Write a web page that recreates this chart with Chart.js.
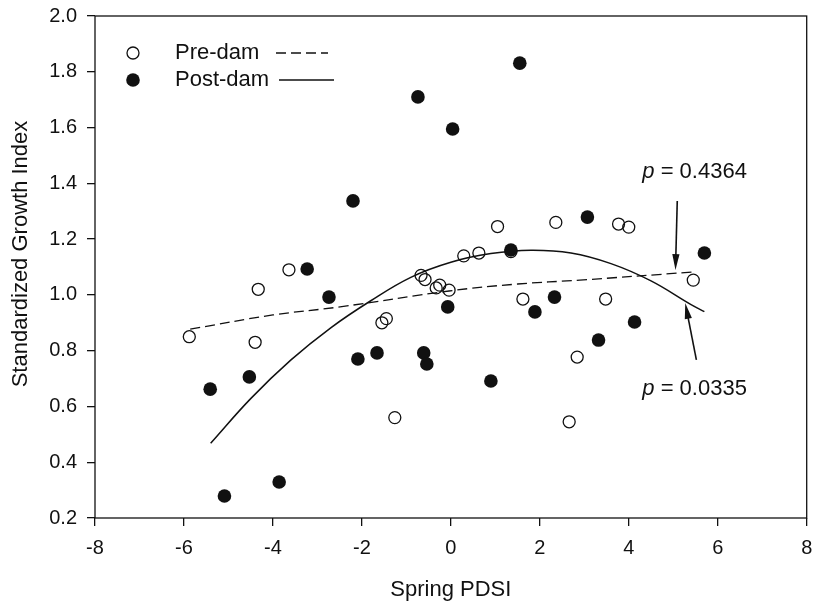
<!DOCTYPE html>
<html>
<head>
<meta charset="utf-8">
<script src="https://cdn.jsdelivr.net/npm/chart.js@4.4.1/dist/chart.umd.min.js"></script>
<style>
  html, body { margin: 0; padding: 0; background: #fff; }
  canvas { display: block; }
</style>
</head>
<body>
<canvas id="pdsiChart" width="814" height="605"></canvas>
<script>
// Growth index against spring PDSI, before and after the dam
const preDamX = [-5.88, -4.40, -4.33, -3.64, -1.55, -1.45, -1.26, -0.67, -0.58, -0.33, -0.25, -0.04,
  0.29, 0.63, 1.05, 1.35, 1.62, 2.36, 2.66, 2.84, 3.48, 3.77, 4.00, 5.45];
const preDamY = [0.85, 0.83, 1.02, 1.09, 0.90, 0.915, 0.56, 1.07, 1.055, 1.025, 1.035, 1.017,
  1.14, 1.15, 1.245, 1.155, 0.985, 1.26, 0.545, 0.777, 0.985, 1.254, 1.243, 1.053];

const postDamX = [-5.41, -5.09, -4.53, -3.86, -3.23, -2.74, -2.20, -2.09, -1.66, -0.74, -0.61, -0.54,
  -0.07, 0.04, 0.90, 1.35, 1.55, 1.89, 2.33, 3.07, 3.32, 4.13, 5.70];
const postDamY = [0.662, 0.279, 0.706, 0.329, 1.093, 0.992, 1.337, 0.770, 0.792, 1.71, 0.792, 0.752,
  0.957, 1.595, 0.691, 1.161, 1.831, 0.939, 0.992, 1.279, 0.838, 0.903, 1.150];

// fitted curves, sampled along each line
const preFitX = [-5.86, -4.0, -2.49, -0.04, 1.5, 2.9, 5.45];
const preFitY = [0.877, 0.928, 0.957, 1.014, 1.039, 1.053, 1.082];
const postFitX = [-5.4, -4.5, -3.6, -2.7, -1.8, -0.9, 0, 0.9, 1.8, 2.7, 3.6, 4.5, 5.4, 5.7];
const postFitY = [0.468, 0.628, 0.766, 0.882, 0.979, 1.063, 1.117, 1.148, 1.160, 1.150, 1.112, 1.050, 0.965, 0.940];

const xTicks = [-8, -6, -4, -2, 0, 2, 4, 6, 8];
const xTickLabels = ['-8', '-6', '-4', '-2', '0', '2', '4', '6', '8'];
const yTicks = [0.2, 0.4, 0.6, 0.8, 1.0, 1.2, 1.4, 1.6, 1.8, 2.0];
const yTickLabels = ['0.2', '0.4', '0.6', '0.8', '1.0', '1.2', '1.4', '1.6', '1.8', '2.0'];

// p-value notes: text baseline position and arrow (tail -> tip), in data units
const pValues = ['0.4364', '0.0335'];
const pTextX = [5.48, 5.48];
const pTextY = [1.419, 0.641];
const arrowTail = [[5.09, 1.337], [5.52, 0.767]];
const arrowTip = [[5.05, 1.089], [5.27, 0.971]];

const legendNames = ['Pre-dam', 'Post-dam'];
const yTitle = 'Standardized Growth Index';

const ink = '#111';
const textFont = "22px 'Liberation Sans', Arial, sans-serif";
const toPoints = (xs, ys) => xs.map((v, i) => ({ x: v, y: ys[i] }));

Chart.defaults.font.family = "'Liberation Sans', Arial, sans-serif";
Chart.defaults.color = ink;

function drawArrow(ctx, x0, y0, x1, y1) {
  const ang = Math.atan2(y1 - y0, x1 - x0);
  const len = 16, half = 3.6;
  ctx.beginPath();
  ctx.moveTo(x0, y0);
  ctx.lineTo(x1 - Math.cos(ang) * len * 0.8, y1 - Math.sin(ang) * len * 0.8);
  ctx.stroke();
  ctx.beginPath();
  ctx.moveTo(x1, y1);
  ctx.lineTo(x1 - Math.cos(ang) * len - Math.sin(ang) * half, y1 - Math.sin(ang) * len + Math.cos(ang) * half);
  ctx.lineTo(x1 - Math.cos(ang) * len + Math.sin(ang) * half, y1 - Math.sin(ang) * len - Math.cos(ang) * half);
  ctx.closePath();
  ctx.fill();
}

const frameAndNotes = {
  id: 'frameAndNotes',
  afterDraw(chart) {
    const { ctx, chartArea: a, scales: { x, y } } = chart;
    ctx.save();
    ctx.strokeStyle = ink;
    ctx.fillStyle = ink;
    ctx.lineWidth = 1.3;
    ctx.strokeRect(a.left, a.top, a.right - a.left, a.bottom - a.top);

    // y axis title, sitting a little above the middle of the axis
    ctx.save();
    ctx.font = textFont;
    ctx.textAlign = 'center';
    ctx.textBaseline = 'middle';
    ctx.translate(21, (a.top + a.bottom) / 2 - 13);
    ctx.rotate(-Math.PI / 2);
    ctx.fillText(yTitle, 0, 0);
    ctx.restore();

    // legend box
    const lx = a.left + 38, ly = a.top + 37, row = 27;
    ctx.lineWidth = 1.3;
    ctx.beginPath();
    ctx.arc(lx, ly, 6, 0, Math.PI * 2);
    ctx.fillStyle = '#fff';
    ctx.fill();
    ctx.stroke();
    ctx.fillStyle = ink;
    ctx.beginPath();
    ctx.arc(lx, ly + row, 6.8, 0, Math.PI * 2);
    ctx.fill();
    ctx.font = textFont;
    ctx.textBaseline = 'middle';
    ctx.textAlign = 'left';
    ctx.fillText(legendNames[0], a.left + 80, ly);
    ctx.fillText(legendNames[1], a.left + 80, ly + row);
    ctx.lineWidth = 1.3;
    ctx.setLineDash([10, 5]);
    ctx.beginPath();
    ctx.moveTo(a.left + 181, ly);
    ctx.lineTo(a.left + 233, ly);
    ctx.stroke();
    ctx.setLineDash([]);
    ctx.beginPath();
    ctx.moveTo(a.left + 184, ly + row);
    ctx.lineTo(a.left + 239, ly + row);
    ctx.stroke();

    // p-value labels with arrows
    ctx.textBaseline = 'alphabetic';
    const italic = "italic " + textFont;
    pValues.forEach((val, i) => {
      const rest = ' = ' + val;
      ctx.font = italic;
      const wp = ctx.measureText('p').width;
      ctx.font = textFont;
      const wr = ctx.measureText(rest).width;
      const cx = x.getPixelForValue(pTextX[i]);
      const by = y.getPixelForValue(pTextY[i]);
      const left = cx - (wp + wr) / 2;
      ctx.font = italic;
      ctx.fillText('p', left, by);
      ctx.font = textFont;
      ctx.fillText(rest, left + wp, by);

      ctx.lineWidth = 1.6;
      drawArrow(ctx,
        x.getPixelForValue(arrowTail[i][0]), y.getPixelForValue(arrowTail[i][1]),
        x.getPixelForValue(arrowTip[i][0]), y.getPixelForValue(arrowTip[i][1]));
    });
    ctx.restore();
  }
};

new Chart(document.getElementById('pdsiChart'), {
  type: 'scatter',
  data: {
    datasets: [
      {
        label: 'Pre-dam fit',
        type: 'line',
        data: toPoints(preFitX, preFitY),
        borderColor: ink,
        borderWidth: 1.3,
        borderDash: [10, 5],
        pointRadius: 0,
        fill: false,
        tension: 0.4,
        order: 1
      },
      {
        label: 'Post-dam fit',
        type: 'line',
        data: toPoints(postFitX, postFitY),
        borderColor: ink,
        borderWidth: 1.5,
        pointRadius: 0,
        fill: false,
        tension: 0.4,
        order: 1
      },
      {
        label: 'Pre-dam',
        data: toPoints(preDamX, preDamY),
        pointRadius: 6,
        pointBackgroundColor: 'rgba(255,255,255,0)',
        pointBorderColor: ink,
        pointBorderWidth: 1.3,
        order: 0
      },
      {
        label: 'Post-dam',
        data: toPoints(postDamX, postDamY),
        pointRadius: 6.8,
        pointBackgroundColor: ink,
        pointBorderColor: ink,
        pointBorderWidth: 0,
        order: 0
      }
    ]
  },
  options: {
    responsive: false,
    animation: false,
    events: [],
    layout: { padding: { top: 16, right: 6, left: 0, bottom: 0 } },
    plugins: {
      legend: { display: false },
      tooltip: { enabled: false }
    },
    scales: {
      x: {
        type: 'linear',
        min: -8,
        max: 8,
        afterBuildTicks: s => { s.ticks = xTicks.map(v => ({ value: v })); },
        afterFit: s => { s.height = 87; s.paddingLeft = 0; s.paddingRight = 0; },
        ticks: {
          callback: (v, i) => xTickLabels[i],
          font: { size: 20 },
          color: ink,
          padding: 10,
          maxRotation: 0
        },
        grid: { drawOnChartArea: false, drawTicks: true, tickLength: 8, color: ink, lineWidth: 1.3 },
        border: { display: false },
        title: {
          display: true,
          text: 'Spring PDSI',
          font: { size: 22 },
          color: ink,
          padding: { top: 0, bottom: 2 }
        }
      },
      y: {
        type: 'linear',
        min: 0.2,
        max: 2.0,
        afterBuildTicks: s => { s.ticks = yTicks.map(v => ({ value: v })); },
        afterFit: s => { s.width = 95; s.paddingTop = 0; s.paddingBottom = 0; },
        ticks: {
          callback: (v, i) => yTickLabels[i],
          font: { size: 20 },
          color: ink,
          padding: 10
        },
        grid: { drawOnChartArea: false, drawTicks: true, tickLength: 8, color: ink, lineWidth: 1.3 },
        border: { display: false },
        title: { display: false }
      }
    }
  },
  plugins: [frameAndNotes]
});
</script>
</body>
</html>
